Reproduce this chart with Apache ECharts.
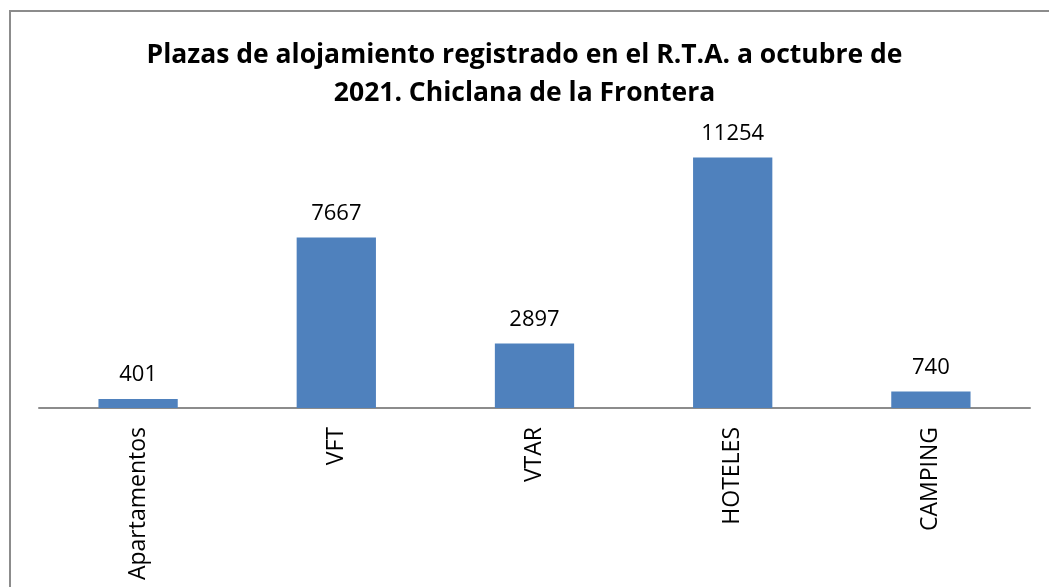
<!DOCTYPE html>
<html>
<head>
<meta charset="utf-8">
<script src="https://cdn.jsdelivr.net/npm/echarts@6.0.0/dist/echarts.min.js"></script>
<style>
  html, body { margin: 0; padding: 0; background: #fff; overflow: hidden; }
  #frame {
    position: absolute; left: 9px; top: 10px; width: 1060px; height: 600px;
    border: 2px solid #8c8c8c; box-sizing: border-box;
  }
  #chart { position: absolute; left: 0; top: 0; width: 1049px; height: 587px; }
</style>
</head>
<body>
<div id="frame"></div>
<div id="chart"></div>
<script>
  // datos
  const categories = ['Apartamentos', 'VFT', 'VTAR', 'HOTELES', 'CAMPING'];
  const plazas = [401, 7667, 2897, 11254, 740];
  const titulo = 'Plazas de alojamiento registrado en el R.T.A. a octubre de\n2021. Chiclana de la Frontera';

  const font = '"Open Sans", "Liberation Sans", sans-serif';
  const chart = echarts.init(document.getElementById('chart'));

  chart.setOption({
    animation: false,
    title: {
      text: titulo,
      left: 'center',
      top: 31,
      textStyle: { fontFamily: font, fontWeight: 'bold', fontSize: 26.5, lineHeight: 38, color: '#000' }
    },
    grid: { left: 39, right: 19, top: 141, bottom: 179 },
    xAxis: {
      type: 'category',
      data: categories,
      axisLine: { lineStyle: { color: '#8c8c8c', width: 2 } },
      axisTick: { show: false },
      axisLabel: {
        rotate: 90,
        margin: 19,
        fontFamily: font,
        fontSize: 23,
        color: '#000'
      }
    },
    yAxis: {
      type: 'value',
      min: 0,
      max: 12000,
      show: false,
      splitLine: { show: false }
    },
    series: [{
      type: 'bar',
      data: plazas,
      barWidth: '40%',
      itemStyle: { color: '#4F81BD' },
      label: {
        show: true,
        position: 'top',
        distance: 13,
        fontFamily: font,
        fontSize: 22,
        color: '#000'
      }
    }]
  });
</script>
</body>
</html>
